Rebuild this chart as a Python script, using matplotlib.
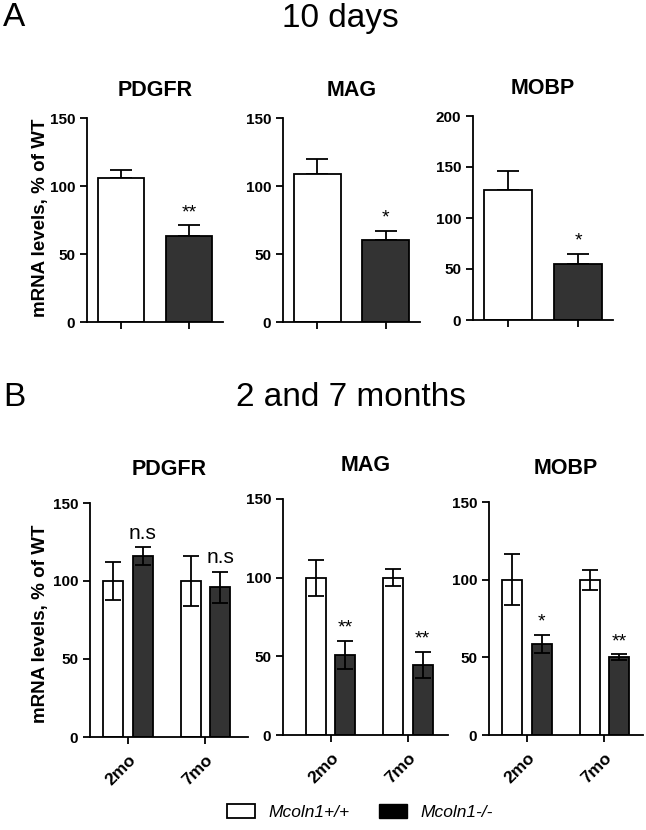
import numpy as np
import matplotlib
matplotlib.use("Agg")
import matplotlib.pyplot as plt
from matplotlib.patches import Patch

plt.rcParams['font.family'] = ['Liberation Sans', 'DejaVu Sans']

# panel A: 10 days
a_genes = ['PDGFR', 'MAG', 'MOBP']
a_wt = [106, 109, 127]
a_wt_err = [6, 11, 19]
a_ko = [63, 60, 55]
a_ko_err = [8, 7, 10]
a_sig = ['**', '*', '*']
a_ymax = [150, 150, 200]

# panel B: 2 and 7 months
b_ages = ['2mo', '7mo']
b_genes = ['PDGFR', 'MAG', 'MOBP']
b_wt = [[100, 100], [100, 100], [100, 100]]
b_wt_err = [[12, 16], [11.5, 5.5], [16.5, 6.5]]
b_ko = [[116, 96], [51, 44.5], [58.5, 50]]
b_ko_err = [[6, 10], [9, 8.5], [6, 2]]
b_sig = [['n.s', 'n.s'], ['**', '**'], ['*', '**']]

W, H = 646, 830
dark = '#333333'

def box(l, t, r, b):
    # pixel box -> figure fraction
    return [l / W, 1 - b / H, (r - l) / W, (b - t) / H]

def style(ax, ymax):
    for s in ['top', 'right']:
        ax.spines[s].set_visible(False)
    for s in ['left', 'bottom']:
        ax.spines[s].set_linewidth(1.3)
    ax.set_ylim(0, ymax)
    ax.set_yticks(np.arange(0, ymax + 1, 50))
    ax.tick_params(width=1.3, length=5, labelsize=11)
    for t in ax.get_yticklabels():
        t.set_fontweight('bold')

fig = plt.figure(figsize=(W / 100, H / 100), dpi=100)

fig.text(3 / W, 1 - 18 / H, 'A', fontsize=24, va='center', ha='left')
fig.text(340 / W, 1 - 18 / H, '10 days', fontsize=24, va='center', ha='center')
fig.text(3 / W, 1 - 397 / H, 'B', fontsize=24, va='center', ha='left')
fig.text(351 / W, 1 - 397 / H, '2 and 7 months', fontsize=24, va='center', ha='center')

fig.text(41 / W, 1 - 218 / H, 'mRNA levels, % of WT', rotation=90, fontsize=13.5,
         fontweight='bold', va='center', ha='center')
fig.text(41 / W, 1 - 624 / H, 'mRNA levels, % of WT', rotation=90, fontsize=13.5,
         fontweight='bold', va='center', ha='center')

a_boxes = [(87, 118, 223, 322), (283, 118, 420, 322), (473, 116, 613, 320)]
for i in range(3):
    ax = fig.add_axes(box(*a_boxes[i]))
    x = np.arange(2)
    ax.bar(x, [a_wt[i], a_ko[i]], width=0.68, color=['white', dark],
           edgecolor='black', linewidth=1.3, zorder=2)
    ax.errorbar(x, [a_wt[i], a_ko[i]], yerr=[[0, 0], [a_wt_err[i], a_ko_err[i]]],
                fmt='none', ecolor='black', elinewidth=1.3, capsize=8, capthick=1.3, zorder=1)
    ax.annotate(a_sig[i], (1, a_ko[i] + a_ko_err[i]), xytext=(0, 3), textcoords='offset points',
                ha='center', va='bottom', fontsize=14)
    ax.set_xlim(-0.5, 1.5)
    ax.set_xticks(x)
    ax.set_xticklabels([])
    style(ax, a_ymax[i])
    ax.set_title(a_genes[i], fontsize=15.5, fontweight='bold', pad=16)

b_boxes = [(90, 503, 248, 737), (283, 499, 448, 735), (489, 502, 643, 735)]
b_xlims = [(-0.49, 1.55), (-0.62, 1.52), (-0.49, 1.5)]
off = 0.19
for i in range(3):
    ax = fig.add_axes(box(*b_boxes[i]))
    x = np.arange(2)
    ax.bar(x - off, b_wt[i], width=0.26, color='white', edgecolor='black', linewidth=1.3)
    ax.bar(x + off, b_ko[i], width=0.26, color=dark, edgecolor='black', linewidth=1.3)
    ax.errorbar(x - off, b_wt[i], yerr=b_wt_err[i], fmt='none', ecolor='black',
                elinewidth=1.3, capsize=5.5, capthick=1.3)
    ax.errorbar(x + off, b_ko[i], yerr=b_ko_err[i], fmt='none', ecolor='black',
                elinewidth=1.3, capsize=5.5, capthick=1.3)
    for j in range(2):
        fs = 15 if b_sig[i][j] == 'n.s' else 14
        ax.annotate(b_sig[i][j], (x[j] + off, b_ko[i][j] + b_ko_err[i][j]), xytext=(0, 3),
                    textcoords='offset points', ha='center', va='bottom', fontsize=fs)
    ax.set_xlim(*b_xlims[i])
    ax.set_xticks(x)
    style(ax, 150)
    ax.set_xticklabels(b_ages, rotation=45, ha='right', va='top', rotation_mode='anchor',
                       fontweight='bold', fontsize=12.5)
    ax.tick_params(axis='x', pad=6)
    ax.set_title(b_genes[i], fontsize=15.5, fontweight='bold', pad=20)

handles = [Patch(facecolor='white', edgecolor='black', linewidth=1.3, label='Mcoln1+/+'),
           Patch(facecolor='black', edgecolor='black', label='Mcoln1-/-')]
leg = fig.legend(handles=handles, loc='center', bbox_to_anchor=(360 / W, 1 - 812 / H), ncol=2,
                 frameon=False, prop={'style': 'italic', 'size': 12.5}, handlelength=1.6,
                 handleheight=0.9, columnspacing=1.7, handletextpad=0.8)

fig.savefig('out.png', dpi=100)
